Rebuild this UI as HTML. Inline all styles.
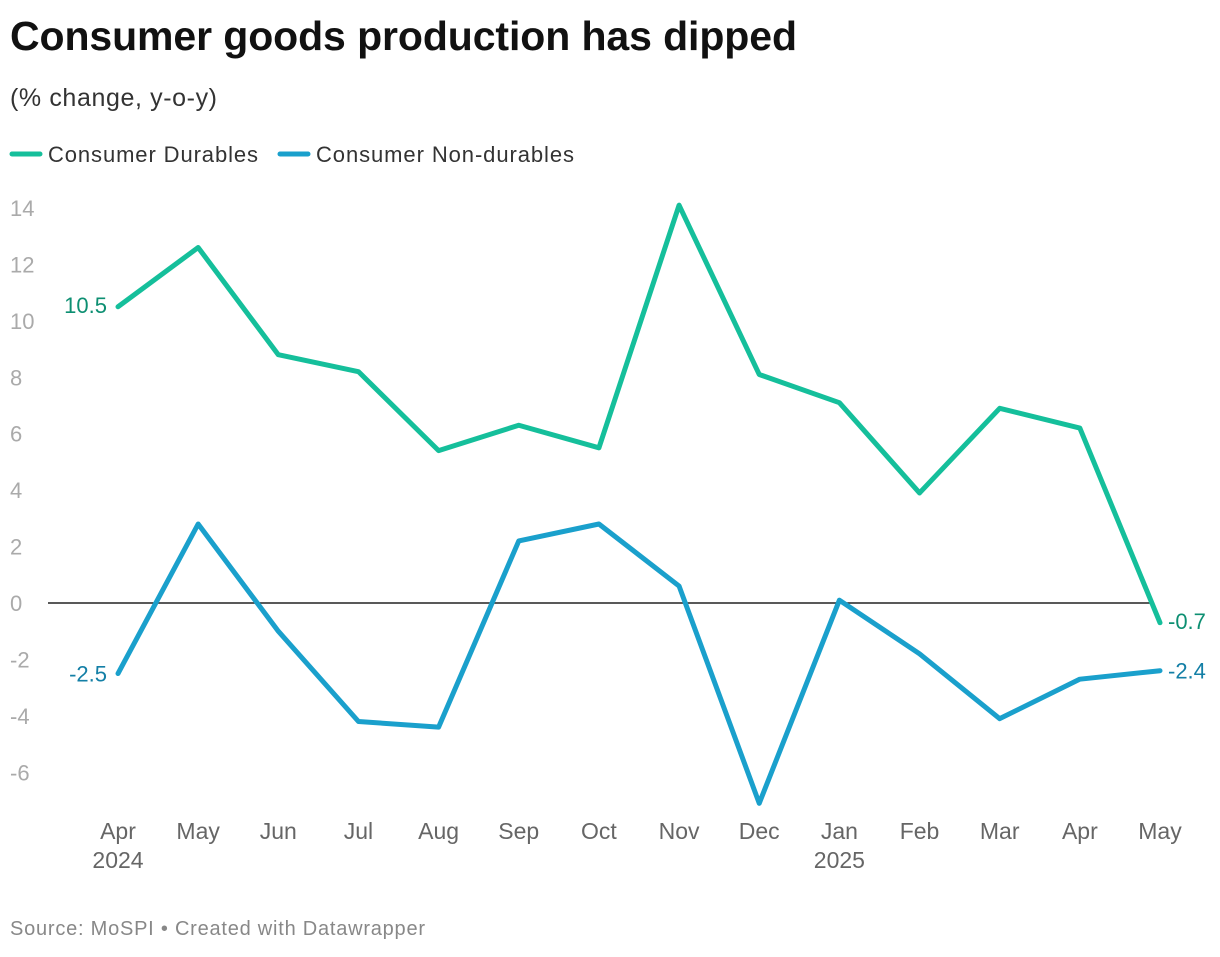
<!DOCTYPE html>
<html><head><meta charset="utf-8"><style>
body{margin:0;background:#fff;font-family:"Liberation Sans",sans-serif;}
</style></head><body>
<svg width="1220" height="952" xmlns="http://www.w3.org/2000/svg" font-family="Liberation Sans, sans-serif">
<text x="10" y="50" font-size="41" font-weight="bold" fill="#111" textLength="787">Consumer goods production has dipped</text>
<text x="10" y="106" font-size="25" fill="#333" textLength="207">(% change, y-o-y)</text>
<g>
<line x1="12" y1="154" x2="40" y2="154" stroke="#15bf9b" stroke-width="5" stroke-linecap="round"/>
<text x="48" y="162" font-size="22" fill="#333" textLength="210">Consumer Durables</text>
<line x1="280" y1="154" x2="308" y2="154" stroke="#1aa0cc" stroke-width="5" stroke-linecap="round"/>
<text x="316" y="162" font-size="22" fill="#333" textLength="258">Consumer Non-durables</text>
</g>
<g id="plot"></g>
<text x="10" y="935" font-size="20" fill="#888" textLength="415">Source: MoSPI • Created with Datawrapper</text>
</svg>
<script>
const months=["Apr","May","Jun","Jul","Aug","Sep","Oct","Nov","Dec","Jan","Feb","Mar","Apr","May"];
const years=["2024","","","","","","","","","2025","","","",""];
const durables=[10.5,12.6,8.8,8.2,5.4,6.3,5.5,14.1,8.1,7.1,3.9,6.9,6.2,-0.7];
const nondurables=[-2.5,2.8,-1.0,-4.2,-4.4,2.2,2.8,0.6,-7.1,0.1,-1.8,-4.1,-2.7,-2.4];
const yTicks=[14,12,10,8,6,4,2,0,-2,-4,-6];
const NS="http://www.w3.org/2000/svg";
const g=document.getElementById("plot");
const x=i=>118+i*(1160-118)/(months.length-1);
const y=v=>603-v*(395/14);
function el(t,a,txt){const e=document.createElementNS(NS,t);for(const k in a)e.setAttribute(k,a[k]);if(txt!==undefined)e.textContent=txt;g.appendChild(e);return e;}
yTicks.forEach(t=>{const e=el("text",{x:10,y:y(t)+8,"font-size":22,fill:"#aaa"},t);

});
const z=el("line",{x1:48,x2:1150,y1:y(0),y2:y(0),stroke:"#222","stroke-width":1.5});


months.forEach((m,i)=>{const e=el("text",{x:x(i),y:839,"font-size":23,fill:"#666","text-anchor":"middle"},m);


if(years[i]){const yv=el("text",{x:x(i),y:868,"font-size":23,fill:"#666","text-anchor":"middle"},years[i]);

}});
function series(d,c,name){const p=el("polyline",{points:d.map((v,i)=>x(i)+","+y(v)).join(" "),fill:"none",stroke:c,"stroke-width":5,"stroke-linejoin":"round","stroke-linecap":"round"});

}
series(durables,"#15bf9b","line-durables");
series(nondurables,"#1aa0cc","line-nondurables");
const l1=el("text",{x:x(0)-11,y:y(durables[0])+6,"font-size":22,fill:"#0d8f72","text-anchor":"end"},durables[0].toFixed(1));


const l2=el("text",{x:x(0)-11,y:y(nondurables[0])+8,"font-size":22,fill:"#137fa6","text-anchor":"end"},nondurables[0].toFixed(1));


const n=months.length-1;
const l3=el("text",{x:x(n)+8,y:y(durables[n])+6,"font-size":22,fill:"#0d8f72"},durables[n].toFixed(1));


const l4=el("text",{x:x(n)+8,y:y(nondurables[n])+8,"font-size":22,fill:"#137fa6"},nondurables[n].toFixed(1));


</script>
</body></html>
